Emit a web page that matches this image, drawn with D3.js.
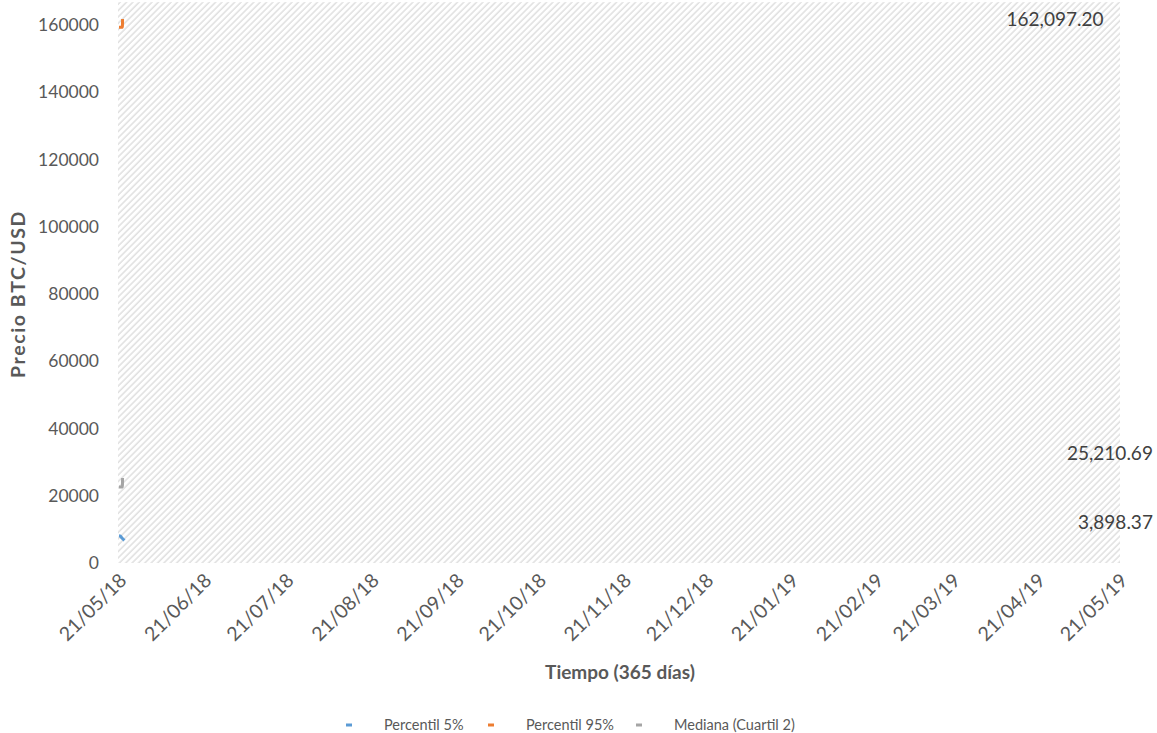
<!DOCTYPE html>
<html>
<head>
<meta charset="utf-8">
<script src="https://cdnjs.cloudflare.com/ajax/libs/d3/7.8.5/d3.min.js"></script>
<style>
  body { margin: 0; background: #fff; }
  text { font-family: Lato, "Open Sans", sans-serif; fill: #595959; }
</style>
</head>
<body>
<div id="chart"></div>
<script>
// series (only the first simulated days are visible on the chart)
var seriesNames = ["Percentil 5%", "Percentil 95%", "Mediana (Cuartil 2)"];
var seriesColors = ["#5b9bd5", "#ed7d31", "#a5a5a5"];

var p5Dates = ["2018-05-21T00:00", "2018-05-21T12:00", "2018-05-22T00:00", "2018-05-23T00:00"];
var p5Values = [8100, 8000, 7500, 6700];

var p95Dates = ["2018-05-21T00:00", "2018-05-22T06:00", "2018-05-22T07:00"];
var p95Values = [159300, 159300, 161800];

var medDates = ["2018-05-21T00:00", "2018-05-22T06:00", "2018-05-22T07:00"];
var medValues = [22600, 22600, 25250];

// end value labels and where they sit on the value axis
var endLabels = ["3,898.37", "25,210.69", "162,097.20"];
var endLabelAt = [12200, 32700, 161600];
var endLabelDate = ["2019-06-02", "2019-06-02", "2019-05-15"];

// axes
var yTicks = [0, 20000, 40000, 60000, 80000, 100000, 120000, 140000, 160000];
var xTickDates = ["2018-05-21", "2018-06-21", "2018-07-21", "2018-08-21", "2018-09-21",
  "2018-10-21", "2018-11-21", "2018-12-21", "2019-01-21", "2019-02-21",
  "2019-03-21", "2019-04-21", "2019-05-21"];
var xTitle = "Tiempo (365 días)";
var yTitle = "Precio BTC/USD";

var W = 1157, H = 733;
var parse = d3.isoParse;
var fmtTick = d3.timeFormat("%d/%m/%y");

var svg = d3.select("#chart").append("svg")
  .attr("width", W)
  .attr("height", H);

var x = d3.scaleTime()
  .domain([parse("2018-05-21"), parse("2019-05-21")])
  .range([119, 1120]);

var y = d3.scaleLinear()
  .domain([0, 160000])
  .range([563, 25]);

// hatched plot area
var defs = svg.append("defs");
var pat = defs.append("pattern")
  .attr("id", "hatch")
  .attr("patternUnits", "userSpaceOnUse")
  .attr("width", 4.5)
  .attr("height", 4.5)
  .attr("patternTransform", "rotate(45)");
pat.append("line")
  .attr("x1", 1).attr("y1", 0)
  .attr("x2", 1).attr("y2", 4.5)
  .style("stroke", "#d4d4d4")
  .style("stroke-width", 1.1);

svg.append("rect")
  .attr("x", 118)
  .attr("y", y(166800))
  .attr("width", x.range()[1] - 118)
  .attr("height", y(0) - y(166800))
  .style("fill", "url(#hatch)");

// y axis labels
svg.append("g").selectAll("text")
  .data(yTicks).enter()
  .append("text")
  .attr("x", 99)
  .attr("y", function (d) { return y(d); })
  .attr("dy", "0.35em")
  .attr("text-anchor", "end")
  .style("font-size", "17.5px")
  .text(function (d) { return d; });

// x axis labels, rotated
svg.append("g").selectAll("text")
  .data(xTickDates).enter()
  .append("text")
  .attr("transform", function (d) {
    return "translate(" + (x(parse(d)) + 4) + ",577) rotate(-45)";
  })
  .attr("text-anchor", "end")
  .attr("dy", "0.35em")
  .style("font-size", "19.5px")
  .text(function (d) { return fmtTick(parse(d)); });

// axis titles
svg.append("text")
  .attr("x", 620)
  .attr("y", 672)
  .attr("dy", "0.35em")
  .attr("text-anchor", "middle")
  .style("font-size", "19px")
  .style("font-weight", "bold")
  .text(xTitle);

svg.append("text")
  .attr("transform", "translate(18,294) rotate(-90)")
  .attr("dy", "0.35em")
  .attr("text-anchor", "middle")
  .style("font-size", "19.5px")
  .style("letter-spacing", "1.6px")
  .style("font-weight", "bold")
  .text(yTitle);

// lines
var series = [
  { dates: p5Dates, values: p5Values },
  { dates: p95Dates, values: p95Values },
  { dates: medDates, values: medValues }
];

var line = d3.line()
  .x(function (d) { return x(d.date); })
  .y(function (d) { return y(d.value); })
  .curve(d3.curveMonotoneX);

series.forEach(function (s, i) {
  var pts = s.dates.map(function (d, j) {
    return { date: parse(d), value: s.values[j] };
  });
  svg.append("path")
    .datum(pts)
    .attr("d", line)
    .style("fill", "none")
    .style("stroke", seriesColors[i])
    .style("stroke-width", 3);
});

// end value labels
svg.append("g").selectAll("text")
  .data(endLabels).enter()
  .append("text")
  .attr("x", function (d, i) { return x(parse(endLabelDate[i])); })
  .attr("y", function (d, i) { return y(endLabelAt[i]); })
  .attr("dy", "0.35em")
  .attr("text-anchor", "end")
  .style("font-size", "19px")
  .style("fill", "#404040")
  .text(function (d) { return d; });

// legend
var legendX = [346, 488, 636];
var legend = svg.append("g");
seriesNames.forEach(function (name, i) {
  legend.append("line")
    .attr("x1", legendX[i]).attr("x2", legendX[i] + 6)
    .attr("y1", 725).attr("y2", 725)
    .style("stroke", seriesColors[i])
    .style("stroke-width", 3);
  legend.append("text")
    .attr("x", legendX[i] + 38)
    .attr("y", 725)
    .attr("dy", "0.35em")
    .style("font-size", "14.5px")
    .text(name);
});
</script>
</body>
</html>
